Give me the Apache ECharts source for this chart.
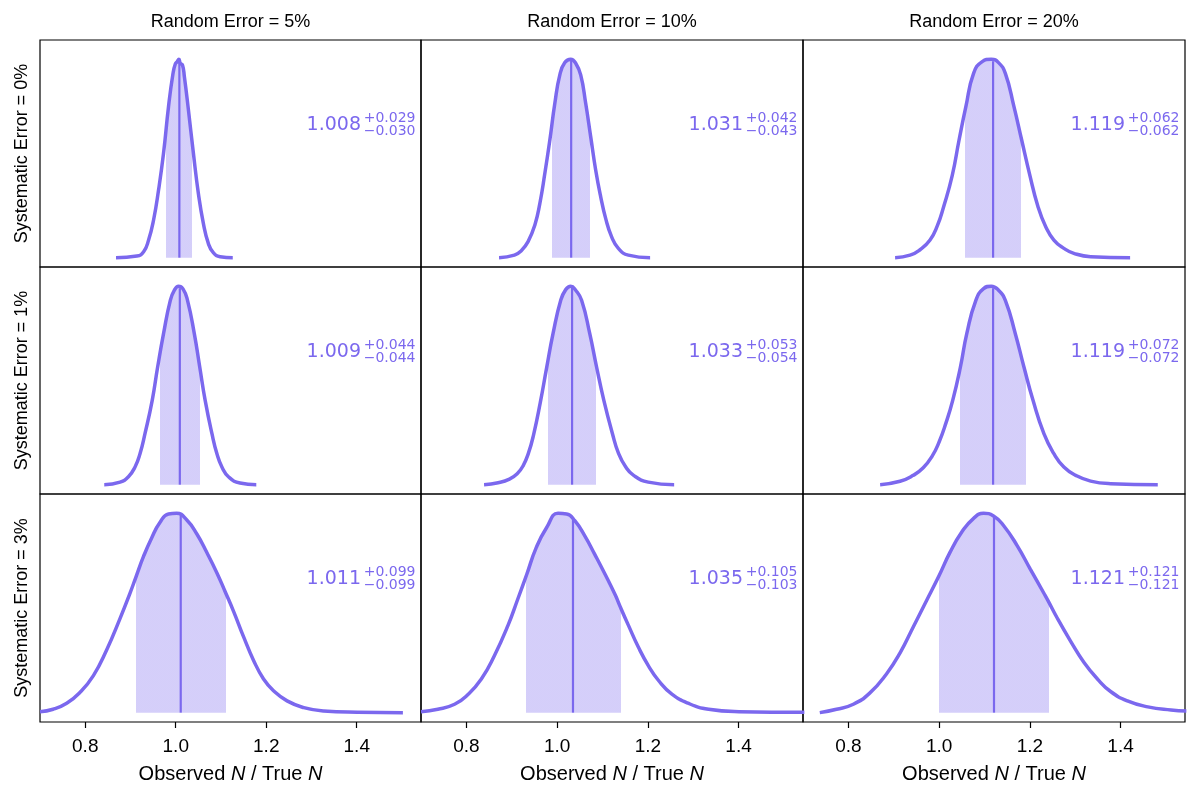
<!DOCTYPE html>
<html>
<head>
<meta charset="utf-8">
<title>Observed N / True N</title>
<script src="https://cdn.jsdelivr.net/npm/echarts@6/dist/echarts.min.js"></script>
<style>
html, body { margin: 0; padding: 0; background: #fff; }
#main { width: 1200px; height: 798px; }
</style>
</head>
<body>
<div id="main"></div>
<script>
// column / row headings
var randomErrors = ['5%', '10%', '20%'];
var systematicErrors = ['0%', '1%', '3%'];
var tickValues = [0.8, 1.0, 1.2, 1.4];

// density curves, [observed/true, density scaled to peak]
var curve_s0_r5 = [[0.868,0],[0.914,0.008],[0.929,0.030],[0.940,0.089],[0.951,0.190],[0.962,0.341],[0.973,0.526],[0.984,0.761],[0.994,0.929],[0.999,0.976],[1.003,0.987],[1.007,1.0],[1.010,0.98],[1.015,0.97],[1.019,0.913],[1.028,0.745],[1.039,0.526],[1.050,0.324],[1.061,0.173],[1.072,0.072],[1.083,0.025],[1.098,0.005],[1.126,0]];
var curve_s0_r10 = [[0.872,0],[0.906,0.013],[0.921,0.035],[0.936,0.081],[0.951,0.165],[0.962,0.274],[0.973,0.425],[0.984,0.593],[0.995,0.778],[1.006,0.921],[1.017,0.983],[1.030,1.0],[1.041,0.980],[1.052,0.921],[1.063,0.778],[1.074,0.610],[1.085,0.442],[1.096,0.308],[1.107,0.198],[1.120,0.106],[1.135,0.047],[1.157,0.013],[1.205,0]];
var curve_s0_r20 = [[0.903,0],[0.936,0.013],[0.958,0.040],[0.980,0.089],[0.996,0.160],[1.010,0.257],[1.029,0.415],[1.044,0.593],[1.059,0.761],[1.076,0.929],[1.095,0.988],[1.115,1.0],[1.131,0.983],[1.146,0.929],[1.165,0.761],[1.182,0.593],[1.199,0.425],[1.218,0.257],[1.235,0.156],[1.253,0.089],[1.275,0.047],[1.297,0.022],[1.334,0.005],[1.421,0]];
var curve_s1_r5 = [[0.842,0],[0.877,0.013],[0.895,0.039],[0.910,0.089],[0.921,0.156],[0.932,0.257],[0.948,0.425],[0.960,0.593],[0.973,0.761],[0.988,0.929],[0.997,0.98],[1.006,1.0],[1.016,0.987],[1.026,0.929],[1.041,0.761],[1.053,0.593],[1.065,0.425],[1.080,0.257],[1.091,0.156],[1.102,0.089],[1.117,0.039],[1.142,0.008],[1.178,0]];
var curve_s1_r10 = [[0.839,0],[0.870,0.010],[0.895,0.028],[0.912,0.055],[0.925,0.095],[0.937,0.160],[0.948,0.250],[0.963,0.415],[0.977,0.590],[0.991,0.761],[1.008,0.929],[1.019,0.983],[1.030,1.0],[1.041,0.980],[1.054,0.929],[1.072,0.761],[1.087,0.593],[1.103,0.425],[1.122,0.257],[1.135,0.160],[1.151,0.090],[1.168,0.048],[1.201,0.013],[1.258,0]];
var curve_s1_r20 = [[0.870,0],[0.914,0.017],[0.943,0.047],[0.965,0.085],[0.985,0.145],[1.000,0.215],[1.015,0.310],[1.030,0.425],[1.047,0.593],[1.061,0.761],[1.081,0.929],[1.098,0.988],[1.115,1.0],[1.131,0.980],[1.146,0.929],[1.168,0.761],[1.187,0.593],[1.207,0.425],[1.231,0.257],[1.253,0.156],[1.275,0.089],[1.301,0.047],[1.334,0.018],[1.378,0.005],[1.482,0]];
var curve_s3_r5 = [[0.700,0.005],[0.729,0.017],[0.759,0.047],[0.788,0.101],[0.818,0.186],[0.847,0.313],[0.877,0.473],[0.899,0.600],[0.912,0.680],[0.929,0.785],[0.947,0.878],[0.965,0.954],[0.984,0.997],[1.002,1.0],[1.024,0.968],[1.047,0.895],[1.069,0.802],[1.091,0.701],[1.109,0.608],[1.128,0.507],[1.150,0.380],[1.172,0.262],[1.194,0.169],[1.216,0.110],[1.246,0.059],[1.283,0.025],[1.327,0.008],[1.401,0.002],[1.502,0]];
var curve_s3_r10 = [[0.700,0.005],[0.737,0.017],[0.774,0.042],[0.803,0.090],[0.833,0.169],[0.862,0.287],[0.892,0.439],[0.914,0.574],[0.933,0.693],[0.954,0.828],[0.977,0.929],[1.002,1.0],[1.021,0.997],[1.039,0.963],[1.061,0.887],[1.083,0.794],[1.106,0.693],[1.128,0.591],[1.139,0.532],[1.157,0.439],[1.179,0.329],[1.201,0.236],[1.224,0.160],[1.253,0.093],[1.290,0.046],[1.334,0.017],[1.401,0.005],[1.545,0.002]];
var curve_s3_r20 = [[0.737,0],[0.774,0.017],[0.811,0.042],[0.847,0.098],[0.884,0.194],[0.914,0.300],[0.943,0.430],[0.973,0.565],[0.999,0.683],[1.024,0.804],[1.050,0.906],[1.076,0.975],[1.098,1.0],[1.120,0.987],[1.142,0.939],[1.172,0.838],[1.201,0.720],[1.231,0.599],[1.240,0.562],[1.260,0.476],[1.290,0.358],[1.319,0.253],[1.349,0.169],[1.378,0.106],[1.415,0.059],[1.460,0.029],[1.511,0.013],[1.545,0.008]];

// medians and asymmetric errors per panel [row = systematic][col = random]
var medians = [[1.008, 1.031, 1.119], [1.009, 1.033, 1.119], [1.011, 1.035, 1.121]];
var errUp = [[0.029, 0.042, 0.062], [0.044, 0.053, 0.072], [0.099, 0.105, 0.121]];
var errDown = [[0.030, 0.043, 0.062], [0.044, 0.054, 0.072], [0.099, 0.103, 0.121]];
// height where the median line meets the curve
var medianHeight = [[1.0, 1.0, 0.99], [0.99, 0.995, 0.99], [0.995, 0.975, 0.983]];

var curves = [
    [curve_s0_r5, curve_s0_r10, curve_s0_r20],
    [curve_s1_r5, curve_s1_r10, curve_s1_r20],
    [curve_s3_r5, curve_s3_r10, curve_s3_r20]
];

var lineColor = '#7b68ee';
var bandColor = 'rgba(123,104,238,0.32)';
var clearColor = 'rgba(123,104,238,0)';
var axisFont = 'Liberation Sans';
var textFont = '"DejaVu Sans"';

var colLeft = [40, 421, 803], colWidth = [381, 382, 382];
var rowTop = [40, 267, 494], rowHeight = [227, 227, 228];

var grids = [], xAxes = [], yAxes = [], series = [], visualMaps = [], graphics = [];

for (var r = 0; r < 3; r++) {
    for (var c = 0; c < 3; c++) {
        var k = r * 3 + c;
        var last = r === 2;
        grids.push({
            left: colLeft[c], top: rowTop[r], width: colWidth[c], height: rowHeight[r],
            show: true, borderColor: '#000', borderWidth: 1.2, backgroundColor: 'transparent'
        });
        xAxes.push({
            type: 'value', gridIndex: k, min: 0.7, max: 1.542,
            axisLine: {show: false, onZero: false},
            splitLine: {show: false},
            axisTick: {show: last, customValues: tickValues, length: 6, lineStyle: {color: '#000', width: 1.2}},
            axisLabel: {
                show: last, customValues: tickValues, margin: 15,
                fontSize: 19, fontFamily: axisFont, color: '#000',
                formatter: function (v) { return v.toFixed(1); }
            },
            name: last ? '{r|Observed }{i|N}{r| / True }{i|N}' : '',
            nameLocation: 'middle', nameGap: 42,
            nameTextStyle: {
                rich: {
                    r: {fontSize: 20, fontFamily: axisFont, color: '#000'},
                    i: {fontSize: 20, fontFamily: axisFont, fontStyle: 'italic', color: '#000'}
                }
            }
        });
        yAxes.push({type: 'value', gridIndex: k, min: -0.047, max: 1.097, show: false});

        var med = medians[r][c];
        var lo = med - errDown[r][c], hi = med + errUp[r][c];

        // shaded interval: area under the curve, coloured only between lo and hi
        visualMaps.push({
            type: 'piecewise', show: false, dimension: 0, seriesIndex: series.length,
            pieces: [
                {lt: lo, color: clearColor},
                {gte: lo, lte: hi, color: bandColor},
                {gt: hi, color: clearColor}
            ]
        });
        series.push({
            type: 'line', xAxisIndex: k, yAxisIndex: k, data: curves[r][c],
            smooth: 0.5, symbol: 'none', silent: true, z: 1,
            lineStyle: {width: 0, opacity: 0},
            areaStyle: {opacity: 1}
        });
        series.push({
            type: 'line', xAxisIndex: k, yAxisIndex: k,
            data: [[med, 0], [med, medianHeight[r][c]]],
            symbol: 'none', silent: true, z: 2,
            lineStyle: {color: lineColor, width: 2.2}
        });
        series.push({
            type: 'line', xAxisIndex: k, yAxisIndex: k, data: curves[r][c],
            smooth: 0.5, symbol: 'none', silent: true, z: 3,
            lineStyle: {color: lineColor, width: 3.5}
        });

        var right = colLeft[c] + colWidth[c];
        graphics.push({
            type: 'text', x: right - 60, y: rowTop[r] + 85,
            style: {text: med.toFixed(3), fill: lineColor, font: '19px ' + textFont, align: 'right', verticalAlign: 'middle'}
        });
        graphics.push({
            type: 'text', x: right - 5.5, y: rowTop[r] + 78,
            style: {text: '+' + errUp[r][c].toFixed(3), fill: lineColor, font: '14px ' + textFont, align: 'right', verticalAlign: 'middle'}
        });
        graphics.push({
            type: 'text', x: right - 5.5, y: rowTop[r] + 91.5,
            style: {text: '\u2212' + errDown[r][c].toFixed(3), fill: lineColor, font: '14px ' + textFont, align: 'right', verticalAlign: 'middle'}
        });
    }
}

randomErrors.forEach(function (e, c) {
    graphics.push({
        type: 'text', x: colLeft[c] + colWidth[c] / 2, y: 22,
        style: {text: 'Random Error = ' + e, fill: '#000', font: '18px ' + axisFont, align: 'center', verticalAlign: 'middle'}
    });
});
systematicErrors.forEach(function (e, r) {
    graphics.push({
        type: 'text', x: 22, y: rowTop[r] + rowHeight[r] / 2, rotation: Math.PI / 2,
        style: {text: 'Systematic Error = ' + e, fill: '#000', font: '18px ' + axisFont, align: 'center', verticalAlign: 'middle'}
    });
});

var chart = echarts.init(document.getElementById('main'));
chart.setOption({
    animation: false,
    backgroundColor: '#fff',
    grid: grids,
    xAxis: xAxes,
    yAxis: yAxes,
    visualMap: visualMaps,
    series: series,
    graphic: graphics
});
</script>
</body>
</html>
